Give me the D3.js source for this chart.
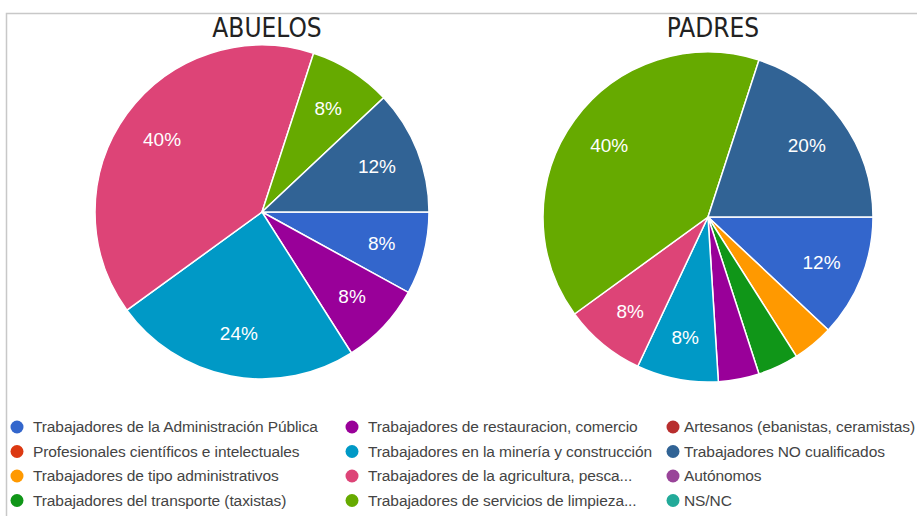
<!DOCTYPE html>
<html>
<head>
<meta charset="utf-8">
<script src="https://cdn.jsdelivr.net/npm/d3@7"></script>
<style>
  body { margin: 0; background: #fff; }
  svg { display: block; }
</style>
</head>
<body>
<svg id="chart" width="917" height="516"></svg>
<script>
// categories, in legend order
var categories = [
  "Trabajadores de la Administración Pública",
  "Profesionales científicos e intelectuales",
  "Trabajadores de tipo administrativos",
  "Trabajadores del transporte (taxistas)",
  "Trabajadores de restauracion, comercio",
  "Trabajadores en la minería y construcción",
  "Trabajadores de la agricultura, pesca...",
  "Trabajadores de servicios de limpieza...",
  "Artesanos (ebanistas, ceramistas)",
  "Trabajadores NO cualificados",
  "Autónomos",
  "NS/NC"
];
var colors = ["#3366cc","#dc3912","#ff9900","#109618","#990099","#0099c6",
              "#dd4477","#66aa00","#b82e2e","#316395","#994499","#22aa99"];

var abuelos = [8, 0, 0, 0, 8, 24, 40, 8, 0, 12, 0, 0];
var padres  = [12, 0, 4, 4, 4, 8, 8, 40, 0, 20, 0, 0];

var titles = ["ABUELOS", "PADRES"];

var svg = d3.select("#chart");

// frame
svg.append("path")
  .attr("d", "M6.5,516 V13.5 H917")
  .attr("fill", "none")
  .attr("stroke", "#c8c8c8")
  .attr("stroke-width", 1.5);

var pies = [
  {title: titles[0], data: abuelos, cx: 262, cy: 212, r: 167, tx: 267},
  {title: titles[1], data: padres,  cx: 708, cy: 217, r: 165, tx: 713}
];

var pie = d3.pie()
  .sort(null)
  .value(function(d) { return d; })
  .startAngle(Math.PI / 2)
  .endAngle(Math.PI / 2 + 2 * Math.PI);

pies.forEach(function(p) {
  var g = svg.append("g").attr("transform", "translate(" + p.cx + "," + p.cy + ")");
  var arc = d3.arc().innerRadius(0).outerRadius(p.r);
  var labelArc = d3.arc().innerRadius(p.r * 0.74).outerRadius(p.r * 0.74);
  var arcs = pie(p.data).filter(function(d) { return d.value > 0; });

  g.selectAll("path.slice")
    .data(arcs)
    .enter().append("path")
      .attr("class", "slice")
      .attr("d", arc)
      .attr("fill", function(d) { return colors[d.index]; })
      .attr("stroke", "#fff")
      .attr("stroke-width", 1.5);

  g.selectAll("text.lbl")
    .data(arcs.filter(function(d) { return d.value >= 5; }))
    .enter().append("text")
      .attr("class", "lbl")
      .attr("transform", function(d) { return "translate(" + labelArc.centroid(d) + ")"; })
      .attr("text-anchor", "middle")
      .attr("dy", "0.36em")
      .attr("fill", "#fff")
      .style("font", "19px 'Liberation Sans', Arial, sans-serif")
      .text(function(d) { return d.value + "%"; });

  svg.append("text")
    .attr("x", p.tx)
    .attr("y", 37)
    .attr("text-anchor", "middle")
    .attr("fill", "#222")
    .style("font-family", "'Liberation Sans Narrow', 'DejaVu Sans Condensed', sans-serif")
    .style("font-size", "26px")
    .text(p.title);
});

// legend: 3 columns x 4 rows
var colX = [17, 352, 673];
var legend = svg.append("g");
var items = legend.selectAll("g.item")
  .data(categories)
  .enter().append("g")
    .attr("class", "item")
    .attr("transform", function(d, i) {
      return "translate(" + colX[Math.floor(i / 4)] + "," + (427 + (i % 4) * 24.5) + ")";
    });
items.append("circle")
  .attr("r", 6.5)
  .attr("fill", function(d, i) { return colors[i]; });
items.append("text")
  .attr("x", function(d, i) { return Math.floor(i / 4) === 2 ? 11 : 16; })
  .attr("dy", "0.35em")
  .attr("fill", "#444")
  .style("font", "15.5px 'Liberation Sans', Arial, sans-serif")
  .style("letter-spacing", "-0.1px")
  .text(function(d) { return d; });
</script>
</body>
</html>
